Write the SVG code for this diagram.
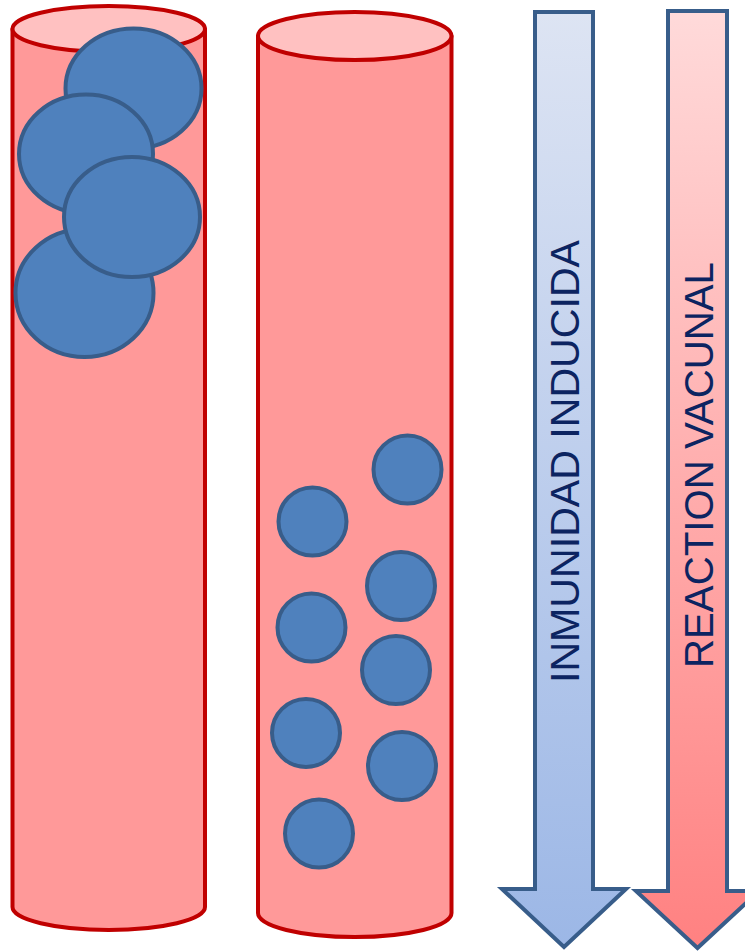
<svg xmlns="http://www.w3.org/2000/svg" width="745" height="952" viewBox="0 0 745 952">
  <defs>
    <linearGradient id="gradBlue" x1="0" y1="0" x2="0" y2="1">
      <stop offset="0" stop-color="#DDE4F3"/>
      <stop offset="1" stop-color="#9CB7E6"/>
    </linearGradient>
    <linearGradient id="gradRed" x1="0" y1="0" x2="0" y2="1">
      <stop offset="0" stop-color="#FFDADA"/>
      <stop offset="1" stop-color="#FF8181"/>
    </linearGradient>
  </defs>
  <style>
    .tube { fill: #FF9999; stroke: #C00000; stroke-width: 4; stroke-linejoin: round; }
    .tubeTop { fill: #FFC1C1; stroke: #C00000; stroke-width: 4; }
    .cell { fill: #4F81BD; stroke: #385D8A; stroke-width: 4; }
    .arrow { stroke: #385D8A; stroke-width: 4; stroke-linejoin: miter; }
    .label { font-family: "Liberation Sans", Arial, sans-serif; font-size: 41px; fill: #0C2461; text-anchor: middle; }
  </style>

  <!-- Tube with large particles -->
  <g id="tube-left">
    <path class="tube" d="M12.5,29 V907 A96.25,23 0 0 0 205,907 V29 Z"/>
    <ellipse class="tubeTop" cx="108.75" cy="29" rx="96.25" ry="23"/>
  </g>
  <g id="large-cells">
    <ellipse class="cell" cx="133.5" cy="88.5" rx="68" ry="60"/>
    <ellipse class="cell" cx="86" cy="154" rx="67" ry="59.5"/>
    <ellipse class="cell" cx="84.5" cy="293" rx="69" ry="64"/>
    <ellipse class="cell" cx="132" cy="217" rx="68" ry="60"/>
  </g>

  <!-- Tube with small particles -->
  <g id="tube-right">
    <path class="tube" d="M258,36 V913 A96.75,24 0 0 0 451.5,913 V36 Z"/>
    <ellipse class="tubeTop" cx="354.75" cy="36" rx="96.75" ry="24"/>
  </g>
  <g id="small-cells">
    <circle class="cell" cx="407.5" cy="469.5" r="34"/>
    <circle class="cell" cx="312.5" cy="521.5" r="34"/>
    <circle class="cell" cx="401" cy="586" r="34"/>
    <circle class="cell" cx="311.5" cy="627.5" r="34"/>
    <circle class="cell" cx="396" cy="670" r="34"/>
    <circle class="cell" cx="306" cy="733" r="34"/>
    <circle class="cell" cx="402" cy="766" r="34"/>
    <circle class="cell" cx="319" cy="833.5" r="34"/>
  </g>

  <!-- Scale arrows -->
  <g id="arrow-inmunidad">
    <path class="arrow" fill="url(#gradBlue)" d="M535,12 H593 V889 H626 L564,947 L502,889 H535 Z"/>
    <text class="label" transform="translate(579,461.5) rotate(-90)" textLength="443" lengthAdjust="spacingAndGlyphs">INMUNIDAD INDUCIDA</text>
  </g>
  <g id="arrow-reaccion">
    <path class="arrow" fill="url(#gradRed)" d="M668,11 H727 V891 H759 L697.5,948 L636,891 H668 Z"/>
    <text class="label" transform="translate(712.5,465) rotate(-90)" textLength="406" lengthAdjust="spacingAndGlyphs">REACTION VACUNAL</text>
  </g>
</svg>
